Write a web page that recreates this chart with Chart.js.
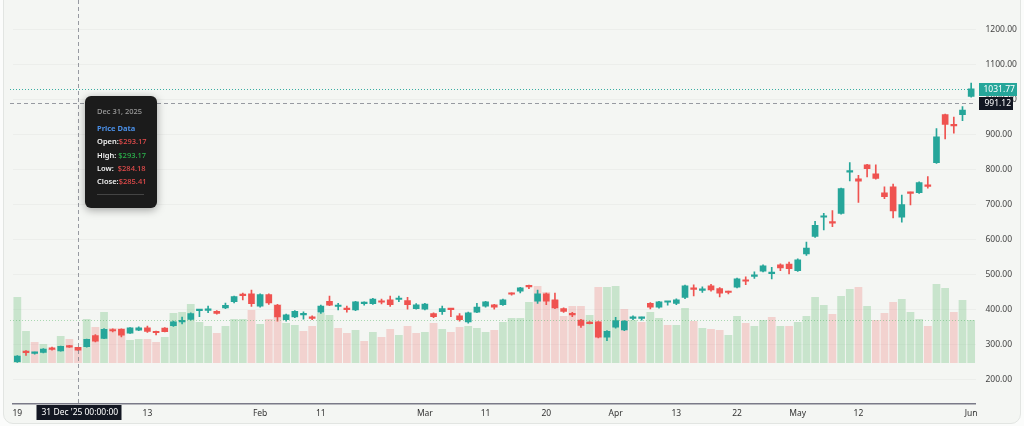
<!DOCTYPE html>
<html>
<head>
<meta charset="utf-8">
<script src="https://cdn.jsdelivr.net/npm/chart.js@4.4.1/dist/chart.umd.min.js"></script>
<style>
    html, body { margin: 0; padding: 0; width: 1024px; height: 426px; overflow: hidden; background: #fbfcfb; font-family: 'Noto Sans', sans-serif; }
    #card { position: absolute; left: 3px; top: -10px; width: 1016px; height: 432px; background: #f4f6f3; border: 1px solid #e2e5e2; border-radius: 10px; }
    #chart { position: absolute; left: 0; top: 0; }
    #tip { position: absolute; left: 85px; top: 96px; width: 72px; height: 112px; box-sizing: border-box; padding: 8px 0 0 12px;
           background: #1b1b1b; border-radius: 6px; box-shadow: 0 2px 8px rgba(0,0,0,0.35); font-size: 7.5px; color: #f2f2f2; white-space: pre; }
    #tip .date { color: #9c9c9c; line-height: 14px; margin-bottom: 4px; font-weight: 500; }
    #tip .head { color: #4a8fe7; font-weight: bold; line-height: 13.3px; }
    #tip .row { line-height: 13.3px; font-weight: 600; }
    #tip .dn { color: #e84c4c; font-weight: 500; }
    #tip .up { color: #2bb24c; font-weight: 500; }
    #tip .sep { width: 47px; height: 1px; background: #444; margin-top: 6px; }
</style>
</head>
<body>
<div id="card"></div>
<canvas id="chart" width="1024" height="426"></canvas>
<div id="tip"><div class="date">Dec 31, 2025</div><div class="head">Price Data</div><div class="row">Open:<span class="dn">$293.17</span></div><div class="row">High: <span class="up">$293.17</span></div><div class="row">Low:  <span class="dn">$284.18</span></div><div class="row">Close:<span class="dn">$285.41</span></div><div class="sep"></div></div>
<script>
// trading days, Dec 19 2025 - Jun 1 2026
var dates = [
    '2025-12-19','2025-12-22','2025-12-23','2025-12-24','2025-12-26','2025-12-29','2025-12-30','2025-12-31',
    '2026-01-02','2026-01-05','2026-01-06','2026-01-07','2026-01-08','2026-01-09','2026-01-12','2026-01-13','2026-01-14','2026-01-15','2026-01-16',
    '2026-01-20','2026-01-21','2026-01-22','2026-01-23','2026-01-26','2026-01-27','2026-01-28','2026-01-29','2026-01-30',
    '2026-02-02','2026-02-03','2026-02-04','2026-02-05','2026-02-06','2026-02-09','2026-02-10','2026-02-11','2026-02-12','2026-02-13',
    '2026-02-17','2026-02-18','2026-02-19','2026-02-20','2026-02-23','2026-02-24','2026-02-25','2026-02-26','2026-02-27',
    '2026-03-02','2026-03-03','2026-03-04','2026-03-05','2026-03-06','2026-03-09','2026-03-10','2026-03-11','2026-03-12','2026-03-13',
    '2026-03-16','2026-03-17','2026-03-18','2026-03-19','2026-03-20','2026-03-23','2026-03-24','2026-03-25','2026-03-26','2026-03-27','2026-03-30','2026-03-31',
    '2026-04-01','2026-04-02','2026-04-06','2026-04-07','2026-04-08','2026-04-09','2026-04-10','2026-04-13','2026-04-14','2026-04-15','2026-04-16','2026-04-17',
    '2026-04-20','2026-04-21','2026-04-22','2026-04-23','2026-04-24','2026-04-27','2026-04-28','2026-04-29','2026-04-30',
    '2026-05-01','2026-05-04','2026-05-05','2026-05-06','2026-05-07','2026-05-08','2026-05-11','2026-05-12','2026-05-13','2026-05-14','2026-05-15',
    '2026-05-18','2026-05-19','2026-05-20','2026-05-21','2026-05-22','2026-05-26','2026-05-27','2026-05-28','2026-05-29',
    '2026-06-01'
];

var opens = [252,280,276,279,292,283,297,293.17,295,327, 319,343,345,334,342,349,337,348,355,366,
    373,398,399,396,406,424,443,446,411,444, 413,372,380,386,378,394,425,410,403,400,
    418,418,424,429,430,427,404,402,390,395, 403,383,366,394,411,415,415,447,454,468,
    425,446,429,404,388,371,363,366,322,351, 343,376,376,419,408,422,419,436,461,456,
    469,461,452,465,484,496,511,504,529,531, 512,560,610,665,651,676,794,775,815,789,
    735,752,665,735,735,756,821,958,930,958, 1010];
var highs = [270,284,280,290,294,297,299,293.17,317,330, 347,346,346,350,352,354,340,350,368,380,
    392,401,411,398,420,440,448,457,446,446, 416,388,398,395,383,414,440,419,411,425,
    423,433,431,440,440,436,418,419,392,411, 405,390,394,419,425,416,431,449,465,471,
    457,448,448,406,393,373,367,367,341,379, 370,383,380,421,425,425,432,471,472,466,
    473,464,454,491,495,509,529,522,532,537, 546,594,653,676,684,748,821,785,816,815,
    752,760,728,737,766,781,918,960,951,981, 1048];
var lows = [250,270,274,277,285,282,293,284.18,294,309, 318,337,323,333,341,336,329,337,353,360,
    371,381,392,388,404,420,429,410,408,416, 368,368,378,374,372,390,412,400,394,398,
    414,416,417,410,424,402,402,400,378,387, 381,368,362,392,408,402,413,442,449,461,
    419,415,404,393,381,350,360,320,312,348, 341,372,371,403,405,414,415,432,440,450,
    454,437,446,463,472,490,509,489,512,503, 510,556,607,629,638,674,769,707,780,774,
    718,663,651,700,733,748,819,889,905,941, 1008];
var closes = [268,278,278,288,287,296,294,285.41,316,311, 345,340,328,349,349,339,335,338,366,368,
    390,400,401,390,413,438,441,418,444,420, 380,386,396,388,376,411,414,412,401,423,
    420,431,422,415,432,415,415,417,381,404, 401,372,392,408,423,408,429,445,463,466,
    446,425,406,396,386,356,361,322,339,370, 368,378,378,408,423,424,429,469,459,458,
    457,448,450,489,482,498,526,506,520,518, 543,577,642,667,648,747,796,768,804,776,
    724,683,701,733,764,753,895,930,926,971, 1031.77];

// volume in millions, and whether the volume bar is coloured up (1) or down (0)
var volumes = [33,16,10.5,9.5,7,13.5,12,8,22,18, 25.5,17.5,17.5,11.5,12,12,10.5,13,25,25.5,
    29.5,20.5,18.5,15,18.5,22,22,26.5,19.5,22, 29.5,20,19,16,18.5,25,24,17.5,15,16.5,
    11,15.5,13,17,14,18.5,15,15.5,20,17, 15.5,18,18.5,17.5,15.5,16.5,20.5,22.5,22.5,30.5,
    38.5,35.5,31.5,23.5,28.5,28.5,24,38,38,38.5, 27,21.5,20.5,25.5,22.5,19,19,27.5,21,17.5,
    17,16.5,14,23.5,20,18.5,21.5,23,18.5,18.5, 20.5,23.5,33,29,24.5,33.5,37,38,28.5,21.5,
    25,30.5,32,25.5,22,18.5,39.5,37.5,25.5,31.5, 21.5];
var volUp = [1,1,0,1,0,1,0,0,1,0, 1,0,0,1,1,0,0,1,1,1, 1,1,1,0,1,1,1,0,1,0, 0,1,1,0,0,1,1,0,0,1,
    0,1,0,0,1,0,0,1,0,1, 0,0,1,1,1,0,1,1,1,1, 0,0,0,0,0,0,1,0,1,1, 0,1,0,1,1,0,1,1,0,1,
    0,0,1,1,0,1,1,0,1,0, 1,1,1,1,0,1,1,0,1,0, 0,0,1,1,1,0,1,1,0,1, 1];

var tickDates = ['2025-12-19','2026-01-13','2026-02-02','2026-02-11','2026-03-02','2026-03-11','2026-03-20','2026-04-01','2026-04-13','2026-04-22','2026-05-01','2026-05-12','2026-06-01'];
var tickTexts = ['19','13','Feb','11','Mar','11','20','Apr','13','22','May','12','Jun'];
var priceTicks = [200,300,400,500,600,700,800,900,1000,1100,1200];

var crossDate = '2025-12-31';
var crossPrice = 991.12;

var UP = '#26a69a', DOWN = '#ef5350';

var candleColors = closes.map(function (c, i) { return c >= opens[i] ? UP : DOWN; });
var wickData = lows.map(function (l, i) { return [l, highs[i]]; });
var bodyData = opens.map(function (o, i) { return [o, closes[i]]; });
var volColors = volUp.map(function (u) { return u ? 'rgba(80,180,100,0.27)' : 'rgba(239,83,80,0.22)'; });

Chart.defaults.font.family = "'Noto Sans', sans-serif";

// crosshair, price lines and scale tags
var overlay = {
    id: 'overlay',
    afterDraw: function (chart) {
        var ctx = chart.ctx, a = chart.chartArea;
        var xs = chart.scales.x, ys = chart.scales.y, vs = chart.scales.vol;
        var last = closes.length - 1;
        ctx.save();
        ctx.lineWidth = 1;

        // last price (dotted teal)
        var yLast = Math.round(ys.getPixelForValue(closes[last])) + 0.5;
        ctx.setLineDash([1, 2]);
        ctx.strokeStyle = 'rgba(38,166,154,0.9)';
        ctx.beginPath(); ctx.moveTo(a.left - 3, yLast); ctx.lineTo(a.right, yLast); ctx.stroke();

        // last volume (dotted green)
        var yVol = Math.round(vs.getPixelForValue(volumes[last])) + 0.5;
        ctx.strokeStyle = 'rgba(80,180,100,0.45)';
        ctx.beginPath(); ctx.moveTo(a.left - 3, yVol); ctx.lineTo(a.right, yVol); ctx.stroke();

        // crosshair
        var cx = Math.round(xs.getPixelForValue(dates.indexOf(crossDate))) + 0.5;
        var cy = Math.round(ys.getPixelForValue(crossPrice)) + 0.5;
        ctx.setLineDash([4, 3]);
        ctx.strokeStyle = 'rgba(120,123,134,0.75)';
        ctx.beginPath(); ctx.moveTo(cx, a.top); ctx.lineTo(cx, a.bottom); ctx.stroke();
        ctx.beginPath(); ctx.moveTo(a.left - 3, cy); ctx.lineTo(a.right, cy); ctx.stroke();
        ctx.setLineDash([]);

        // tags on the price scale
        ctx.font = "8.5px 'Noto Sans', sans-serif";
        ctx.textBaseline = 'middle';
        ctx.textAlign = 'left';
        ctx.fillStyle = UP;
        ctx.fillRect(a.right + 3.5, yLast - 6.5, 38, 13);
        ctx.fillStyle = '#ffffff';
        ctx.fillText(closes[last].toFixed(2), a.right + 8, yLast);
        ctx.fillStyle = '#131722';
        ctx.fillRect(a.right + 3.5, cy - 6.5, 34, 13);
        ctx.fillStyle = '#ffffff';
        ctx.fillText(crossPrice.toFixed(2), a.right + 9, cy);

        // tag on the time scale
        ctx.fillStyle = '#131722';
        ctx.fillRect(cx - 42, a.bottom + 1, 85, 15);
        ctx.fillStyle = '#ffffff';
        ctx.fillText("31 Dec '25", cx - 37, a.bottom + 8.5);
        ctx.fillText('00:00:00', cx + 6, a.bottom + 8.5);
        ctx.restore();
    }
};

new Chart(document.getElementById('chart'), {
    type: 'bar',
    data: {
        labels: dates,
        datasets: [{
            label: 'body',
            data: bodyData,
            yAxisID: 'y',
            backgroundColor: candleColors,
            barThickness: 6,
            minBarLength: 1.5,
            grouped: false,
            order: 1
        }, {
            label: 'wick',
            data: wickData,
            yAxisID: 'y',
            backgroundColor: candleColors,
            barThickness: 1,
            grouped: false,
            order: 2
        }, {
            label: 'volume',
            data: volumes,
            yAxisID: 'vol',
            backgroundColor: volColors,
            barPercentage: 0.89,
            categoryPercentage: 1,
            grouped: false,
            order: 3
        }]
    },
    options: {
        responsive: false,
        animation: false,
        layout: { padding: { left: 13, top: 0, right: 0, bottom: 0 } },
        plugins: { legend: { display: false }, tooltip: { enabled: false } },
        scales: {
            x: {
                offset: true,
                grid: { display: false, drawTicks: false },
                border: { display: true, color: '#7a7a88', width: 1.5 },
                ticks: {
                    autoSkip: false, maxRotation: 0, minRotation: 0, padding: 4,
                    color: '#333', font: { size: 8.5 },
                    callback: function (v, i) {
                        var k = tickDates.indexOf(dates[i]);
                        return k >= 0 ? tickTexts[k] : '';
                    }
                },
                afterFit: function (s) { s.height = 22; }
            },
            y: {
                position: 'right',
                min: 131.4,
                max: 1285.7,
                grid: { color: 'rgba(0,0,0,0.03)', drawTicks: false },
                border: { display: false },
                ticks: {
                    padding: 10, color: '#444', font: { size: 8.5 },
                    callback: function (v) { return v.toFixed(2); }
                },
                afterBuildTicks: function (s) { s.ticks = priceTicks.map(function (v) { return { value: v }; }); },
                afterFit: function (s) { s.width = 48.5; s.paddingTop = 0; s.paddingBottom = 0; }
            },
            vol: {
                display: false,
                min: -20.5,
                max: 181.5
            }
        }
    },
    plugins: [overlay]
});
</script>
</body>
</html>
